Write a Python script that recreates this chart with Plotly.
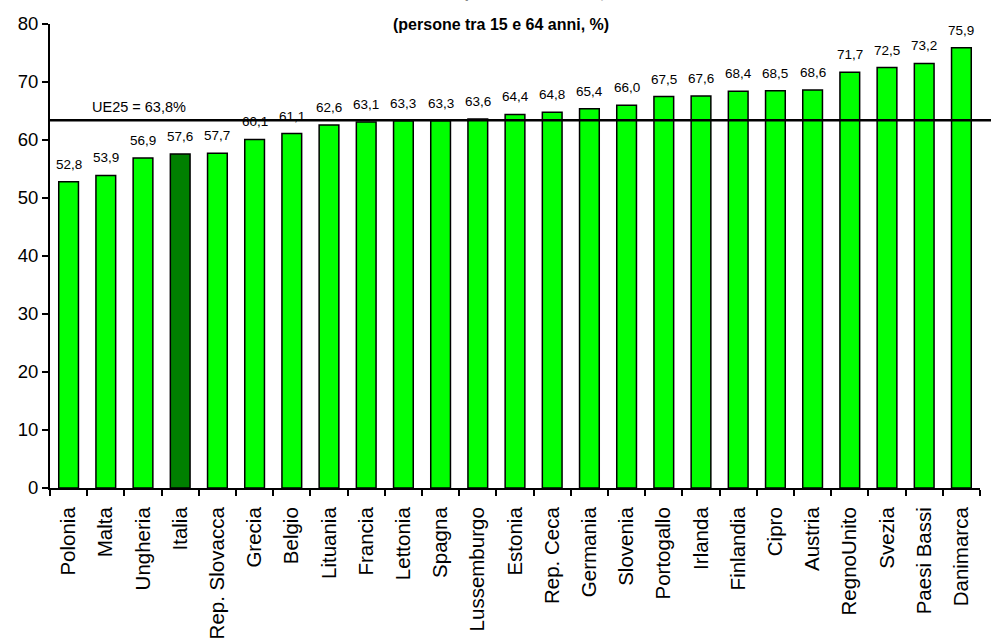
import plotly.graph_objects as go

countries = ["Polonia", "Malta", "Ungheria", "Italia", "Rep. Slovacca", "Grecia", "Belgio",
             "Lituania", "Francia", "Lettonia", "Spagna", "Lussemburgo", "Estonia", "Rep. Ceca",
             "Germania", "Slovenia", "Portogallo", "Irlanda", "Finlandia", "Cipro", "Austria",
             "RegnoUnito", "Svezia", "Paesi Bassi", "Danimarca"]
values = [52.8, 53.9, 56.9, 57.6, 57.7, 60.1, 61.1, 62.6, 63.1, 63.3, 63.3, 63.6, 64.4, 64.8,
          65.4, 66.0, 67.5, 67.6, 68.4, 68.5, 68.6, 71.7, 72.5, 73.2, 75.9]
eu_value = 63.4
eu_label = "UE25 = 63,8%"
y_ticks = [0, 10, 20, 30, 40, 50, 60, 70, 80]

colors = ["#008000" if c == "Italia" else "#00FF00" for c in countries]
texts = [f"{v:.1f}".replace(".", ",") for v in values]

fig = go.Figure()
fig.add_trace(go.Bar(
    x=countries, y=values, marker=dict(color=colors, line=dict(color="black", width=1.5)),
))

for c, v, t in zip(countries, values, texts):
    fig.add_annotation(x=c, y=v, text=t, showarrow=False, xanchor="center", yanchor="bottom",
                       yshift=8, font=dict(family="Liberation Sans, Arial", size=13.5, color="black"))

fig.add_shape(type="line", xref="paper", yref="y", x0=0, x1=1.012, y0=eu_value, y1=eu_value,
              line=dict(color="black", width=2.5))
fig.add_annotation(xref="paper", yref="y", x=0.043, y=eu_value, xanchor="left", yanchor="bottom",
                   text=eu_label, showarrow=False, yshift=3,
                   font=dict(family="Liberation Sans, Arial", size=14.5, color="black"))
fig.add_annotation(xref="paper", yref="paper", x=0.485, y=1.0, xanchor="center", yanchor="middle",
                   text="<b>(persone tra 15 e 64 anni, %)</b>", showarrow=False,
                   font=dict(family="Liberation Sans, Arial", size=16, color="black"))
fig.add_annotation(xref="paper", yref="paper", x=0.485, y=1.068, xanchor="center", yanchor="middle",
                   text="<b>Tasso di occupazione nell'UE25, 2005</b>", showarrow=False,
                   font=dict(family="Liberation Sans, Arial", size=16, color="#888888"))

fig.update_layout(
    width=991, height=639, margin=dict(l=50, r=11, t=24, b=151, autoexpand=False),
    paper_bgcolor="white", plot_bgcolor="white", showlegend=False, bargap=0.47,
    font=dict(family="Liberation Sans, Arial", color="black"),
)
fig.update_xaxes(type="category", tickangle=-90, tickson="boundaries", ticks="outside", ticklen=6,
                 tickwidth=2, tickcolor="black", showline=True, linecolor="black", linewidth=2,
                 showgrid=False, tickfont=dict(size=20.5), ticklabelstandoff=9, automargin=False)
fig.update_yaxes(range=[0, 80], tickvals=y_ticks, ticks="outside", ticklen=6, tickwidth=2,
                 tickcolor="black", showline=True, linecolor="black", linewidth=2,
                 showgrid=False, zeroline=False, tickfont=dict(size=18.5), automargin=False)

fig.write_html("out.html")
